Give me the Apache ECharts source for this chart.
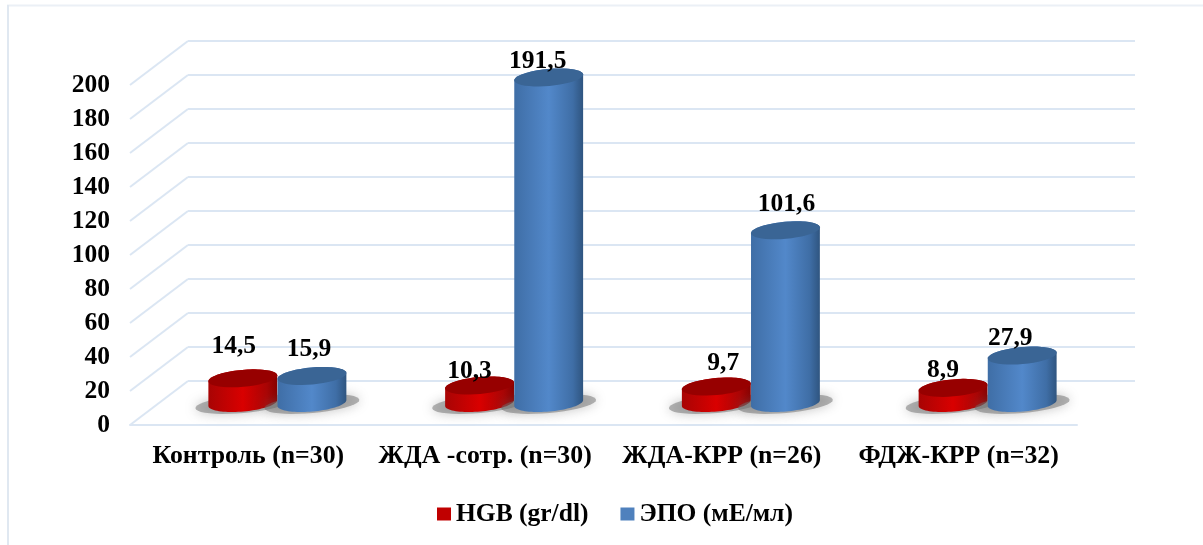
<!DOCTYPE html>
<html>
<head>
<meta charset="utf-8">
<style>
  html, body { margin: 0; padding: 0; background: #fff; }
  #container { width: 1203px; height: 545px; }
</style>
<script src="https://cdn.jsdelivr.net/npm/echarts@6/dist/echarts.min.js"></script>
</head>
<body>
<div id="container"></div>
<script>
  var categories = ['Контроль (n=30)', 'ЖДА -сотр. (n=30)', 'ЖДА-КРР (n=26)', 'ФДЖ-КРР (n=32)'];
  var hgb = [14.5, 10.3, 9.7, 8.9];
  var epo = [15.9, 191.5, 101.6, 27.9];
  var hgbName = 'HGB (gr/dl)';
  var epoName = 'ЭПО (мЕ/мл)';
  var wallTicks = [0, 20, 40, 60, 80, 100, 120, 140, 160, 180, 200];

  // ручные сдвиги подписей [dx, dy] от центра верхушки цилиндра
  var hgbLabelShift = [[-9, -32], [-10, -14], [7, -23], [-10, -17]];
  var epoLabelShift = [[-3, -27], [-11, -16], [1, -26], [-12, -17]];

  var font = '"Liberation Serif", "Times New Roman", serif';
  var lineColor = '#dbe6f3';
  var tilt = -0.09;
  var ry = 8.5;

  function ellipsePoints (cx, cy, rx, from, to, h) {
    var pts = [];
    for (var i = 0; i <= 40; i++) {
      var t = from + (to - from) * i / 40;
      var x = rx * Math.cos(t);
      var y = (h || ry) * Math.sin(t);
      pts.push([cx + x * Math.cos(tilt) - y * Math.sin(tilt), cy + x * Math.sin(tilt) + y * Math.cos(tilt)]);
    }
    return pts;
  }

  function cylinder (colors, side, values, shifts) {
    return function (params, api) {
      var band = api.size([1, 0])[0];
      var rx = band * 0.146;
      var cx = api.coord([api.value(0), 0])[0] + side * rx;
      var base = api.coord([api.value(0), 0])[1];
      var top = api.coord([api.value(0), api.value(1)])[1];
      var shift = shifts[params.dataIndex];
      var body = ellipsePoints(cx, base, rx, 0, Math.PI).concat(ellipsePoints(cx, top, rx, Math.PI, 2 * Math.PI));
      return {
        type: 'group',
        children: [{
          type: 'polygon',
          shape: {points: ellipsePoints(cx, base + 1, rx + 13, 0, 2 * Math.PI, 9)},
          style: {fill: 'rgba(110,110,110,0.5)', shadowBlur: 12, shadowColor: 'rgba(110,110,110,0.8)'},
          silent: true
        }, {
          type: 'polygon',
          shape: {points: body},
          style: {
            fill: {
              type: 'linear', x: 0, y: 0, x2: 1, y2: 0,
              colorStops: [
                {offset: 0, color: colors[0]},
                {offset: 0.5, color: colors[1]},
                {offset: 0.85, color: colors[0]},
                {offset: 1, color: colors[2]}
              ]
            }
          }
        }, {
          type: 'polygon',
          shape: {points: ellipsePoints(cx, top, rx, 0, 2 * Math.PI)},
          style: {fill: colors[3]}
        }, {
          type: 'text',
          z2: 10,
          style: {
            x: cx + shift[0],
            y: top + shift[1],
            text: String(api.value(1)).replace('.', ','),
            font: 'bold 25.5px ' + font,
            fill: '#000',
            align: 'center',
            verticalAlign: 'middle'
          }
        }]
      };
    };
  }

  var dom = document.getElementById('container');
  var myChart = echarts.init(dom);
  myChart.setOption({
    animation: false,
    backgroundColor: '#fff',
    graphic: [
      {type: 'line', silent: true, shape: {x1: 7, y1: 5.5, x2: 1203, y2: 5.5}, style: {stroke: '#ebf0f6', lineWidth: 2}},
      {type: 'line', silent: true, shape: {x1: 8, y1: 5, x2: 8, y2: 545}, style: {stroke: '#e0e8f1', lineWidth: 2}}
    ],
    legend: {
      data: [{name: hgbName}, {name: epoName}],
      left: 432,
      top: 496,
      itemWidth: 14,
      itemHeight: 13,
      itemGap: 32,
      icon: 'rect',
      textStyle: {fontFamily: font, fontWeight: 'bold', fontSize: 25.5, color: '#000'}
    },
    grid: [
      {left: 130, width: 947, top: 85, height: 340},   // передняя плоскость
      {left: 188, width: 947, top: 41, height: 340},   // задняя стенка
      {left: 159, width: 947, top: 63, height: 340},   // плоскость цилиндров
      {left: 130, width: 58, top: 41, height: 384}     // боковая стенка
    ],
    xAxis: [
      {
        type: 'category', gridIndex: 0, data: categories,
        axisTick: {show: false},
        axisLine: {lineStyle: {color: lineColor, width: 2}},
        axisLabel: {fontFamily: font, fontWeight: 'bold', fontSize: 25.8, color: '#000', margin: 18, interval: 0, hideOverlap: false}
      },
      {type: 'category', gridIndex: 1, data: categories, show: false},
      {type: 'category', gridIndex: 2, data: categories, show: false},
      {type: 'value', gridIndex: 3, min: 0, max: 1, show: false}
    ],
    yAxis: [
      {
        type: 'value', gridIndex: 0, min: 0, max: 200, interval: 20,
        axisLine: {show: false},
        axisTick: {show: false},
        splitLine: {show: false},
        axisLabel: {fontFamily: font, fontWeight: 'bold', fontSize: 25.5, color: '#000', margin: 20, padding: [2, 0, 0, 0]}
      },
      {
        type: 'value', gridIndex: 1, min: 0, max: 200, interval: 20,
        axisLine: {show: false},
        axisTick: {show: false},
        axisLabel: {show: false},
        splitLine: {lineStyle: {color: lineColor, width: 2}}
      },
      {type: 'value', gridIndex: 2, min: 0, max: 200, show: false},
      {type: 'value', gridIndex: 3, min: 0, max: 200 * 384 / 340, show: false}
    ],
    series: [
      {
        // диагонали боковой стенки
        type: 'custom',
        xAxisIndex: 3,
        yAxisIndex: 3,
        silent: true,
        data: wallTicks,
        encode: {x: -1, y: 0},
        renderItem: function (params, api) {
          var v = api.value(0);
          var a = api.coord([0, v]);
          var b = api.coord([1, v + 200 * 44 / 340]);
          return {
            type: 'line',
            shape: {x1: a[0], y1: a[1], x2: b[0], y2: b[1]},
            style: {stroke: lineColor, lineWidth: 2}
          };
        }
      },
      {
        name: hgbName,
        type: 'custom',
        xAxisIndex: 2,
        yAxisIndex: 2,
        itemStyle: {color: '#c00000'},
        data: hgb.map(function (v, i) { return [i, v]; }),
        encode: {x: 0, y: 1},
        renderItem: cylinder(['#a80404', '#d90000', '#860000', '#970000'], -1, hgb, hgbLabelShift)
      },
      {
        name: epoName,
        type: 'custom',
        xAxisIndex: 2,
        yAxisIndex: 2,
        itemStyle: {color: '#4f81bd'},
        data: epo.map(function (v, i) { return [i, v]; }),
        encode: {x: 0, y: 1},
        renderItem: cylinder(['#3f6ea6', '#5288ca', '#2f5580', '#3a6595'], 1, epo, epoLabelShift)
      }
    ]
  });
</script>
</body>
</html>
